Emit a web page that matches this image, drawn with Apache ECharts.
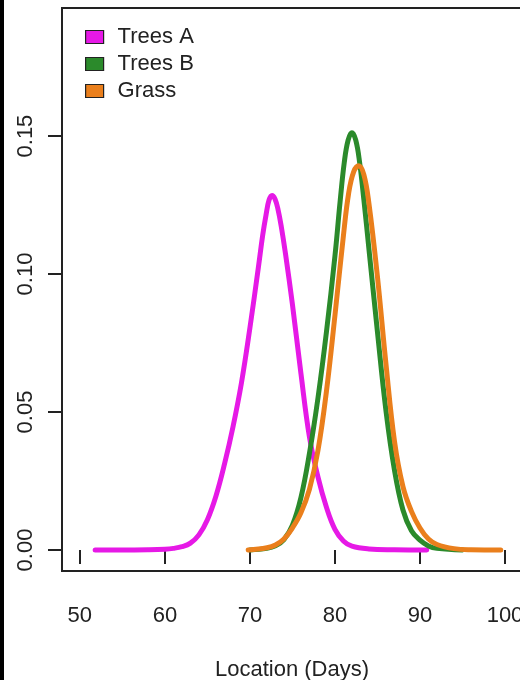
<!DOCTYPE html>
<html>
<head>
<meta charset="utf-8">
<script src="https://cdn.jsdelivr.net/npm/echarts@6/dist/echarts.min.js"></script>
<style>
  html, body { margin: 0; padding: 0; background: #fff; }
  #chart { width: 520px; height: 680px; }
</style>
</head>
<body>
<div id="chart"></div>
<script>
// Density curves of emergence location (days)
const treesA_x = [51.8, 55, 58, 60, 61, 62, 63, 64, 65, 66, 67, 68, 69, 70, 71, 71.5, 71.9, 72.25, 72.6, 72.95, 73.3, 73.7, 74.2, 75, 76, 77, 78, 79, 80, 81, 82, 84, 87, 90.8];
const treesA_y = [0.0000, 0.0000, 0.0001, 0.0003, 0.0006, 0.0012, 0.0025, 0.0055, 0.0110, 0.0195, 0.0310, 0.0445, 0.0605, 0.0805, 0.1025, 0.1140, 0.1215, 0.1268, 0.1285, 0.1272, 0.1235, 0.1170, 0.1070, 0.0890, 0.0640, 0.0410, 0.0265, 0.0155, 0.0075, 0.0033, 0.0014, 0.0004, 0.0001, 0.0000];

const treesB_x = [70, 72, 73, 74, 75, 76, 77, 78, 79, 80, 80.6, 81.1, 81.55, 82, 82.45, 82.9, 83.4, 84, 85, 86, 87, 88, 89, 90, 91, 92, 95];
const treesB_y = [0.0000, 0.0006, 0.0015, 0.0038, 0.0090, 0.0190, 0.0350, 0.0550, 0.0790, 0.1065, 0.1260, 0.1405, 0.1485, 0.1512, 0.1485, 0.1405, 0.1270, 0.1090, 0.0790, 0.0505, 0.0290, 0.0145, 0.0070, 0.0036, 0.0015, 0.0006, 0.0000];

const grass_x = [69.8, 72, 73, 74, 75, 76, 77, 78, 79, 80, 81, 81.6, 82.2, 82.8, 83.4, 84, 85, 86, 87, 88, 89, 90, 91, 92, 94, 96, 99.5];
const grass_y = [0.0000, 0.0008, 0.0018, 0.0040, 0.0080, 0.0135, 0.0220, 0.0360, 0.0575, 0.0850, 0.1140, 0.1290, 0.1370, 0.1392, 0.1360, 0.1255, 0.0990, 0.0675, 0.0395, 0.0230, 0.0140, 0.0080, 0.0040, 0.0020, 0.0005, 0.0001, 0.0000];

const xTicks = [50, 60, 70, 80, 90, 100];
const yTicks = [0, 0.05, 0.10, 0.15];
const seriesNames = ['Trees A', 'Trees B', 'Grass'];
const seriesColors = ['#E619E6', '#2B8A2B', '#EA7F1C'];

const pairs = (xs, ys) => xs.map((x, i) => [x, ys[i]]);
const curves = [pairs(treesA_x, treesA_y), pairs(treesB_x, treesB_y), pairs(grass_x, grass_y)];

const FONT = '"Liberation Sans", Arial, Helvetica, sans-serif';
const INK = '#222';
const FS = 22;

const chart = echarts.init(document.getElementById('chart'), null, { renderer: 'canvas' });

chart.setOption({
  animation: false,
  backgroundColor: '#fff',
  textStyle: { fontFamily: FONT },
  grid: {
    left: 62, top: 8, width: 460, height: 563,
    outerBoundsMode: 'none',
    containLabel: false,
    show: true, borderColor: INK, borderWidth: 2, backgroundColor: '#fff'
  },
  legend: {
    orient: 'vertical',
    left: 80, top: 21,
    itemWidth: 18, itemHeight: 13, itemGap: 5,
    icon: 'rect',
    data: seriesNames.map((n, i) => ({
      name: n,
      itemStyle: { color: seriesColors[i], borderColor: INK, borderWidth: 1.2 }
    })),
    textStyle: { fontSize: FS, color: INK, fontFamily: FONT, padding: [0, 0, 0, 9] }
  },
  xAxis: {
    type: 'value', min: 47.9, max: 102.0,
    name: 'Location (Days)', nameLocation: 'middle', nameGap: 88,
    nameTextStyle: { fontSize: FS, color: INK, fontFamily: FONT },
    axisLine: { show: false },
    splitLine: { show: false },
    axisTick: { show: true, length: 14, customValues: xTicks, lineStyle: { color: INK, width: 2 } },
    axisLabel: { customValues: xTicks, fontSize: FS, color: INK, margin: 34, fontFamily: FONT }
  },
  yAxis: {
    type: 'value', min: -0.0076, max: 0.1964,
    axisLine: { show: false },
    splitLine: { show: false },
    axisTick: { show: true, length: 14, customValues: yTicks, lineStyle: { color: INK, width: 2 } },
    axisLabel: {
      customValues: yTicks, rotate: 90, fontSize: FS, color: INK, margin: 25, fontFamily: FONT,
      formatter: v => v.toFixed(2)
    }
  },
  graphic: [
    { type: 'rect', left: 0, top: 0, shape: { width: 4, height: 680 }, style: { fill: '#000' }, z: 100 }
  ],
  series: curves.map((d, i) => ({
    name: seriesNames[i],
    type: 'line',
    data: d,
    smooth: 0.4,
    showSymbol: false,
    color: seriesColors[i],
    lineStyle: { width: 5, color: seriesColors[i], cap: 'round', join: 'round' },
    z: 2 + i
  }))
});
</script>
</body>
</html>
